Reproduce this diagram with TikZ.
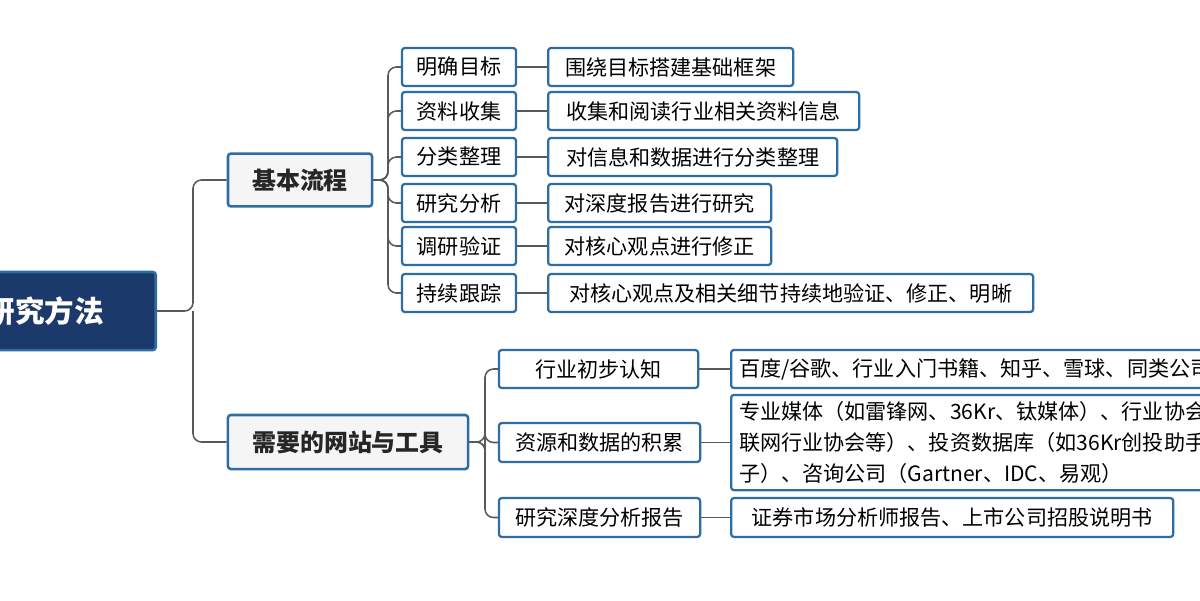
\documentclass[tikz,border=0pt]{standalone}
\usepackage{fontspec}
\setmainfont{Noto Sans CJK SC}
\begin{document}
\begin{tikzpicture}[x=0.025cm,y=-0.025cm,
  bx/.style={draw=bl,line width=1.6pt,rounded corners=2pt,fill=white,font=\fontsize{15}{18}\selectfont,inner sep=0pt},
  l1/.style={draw=bl,line width=1.8pt,rounded corners=2pt,fill=gray!8,font=\fontsize{17}{20}\selectfont\bfseries,inner sep=0pt,text=black!85},
  cn/.style={draw=black!65,line width=1.1pt,rounded corners=6pt}]
\definecolor{bl}{HTML}{2E6DA4}
\definecolor{rt}{HTML}{1B3A6B}
\useasboundingbox (0,0) rectangle (1200,600);
\clip (0,0) rectangle (1200,600);
% root
\node[draw=bl,line width=1.8pt,rounded corners=2pt,fill=rt,minimum width=175\pgflinewidth,inner sep=0pt,
  minimum width=4.3cm,minimum height=1.95cm,anchor=east] (root) at (157,311) {};
\node[anchor=east,text=white,font=\fontsize{21}{24}\selectfont\bfseries] (rt) at (109,311) {研究方法};
% level 1
\node[l1,minimum width=3.6cm,minimum height=1.32cm] (a) at (300,180) {基本流程};
\node[l1,minimum width=6.0cm,minimum height=1.35cm] (b) at (348,442) {需要的网站与工具};
\draw[cn] (root.east) -- (193,311) |- (a.west);
\draw[cn] (193,311) |- (b.west);
% level 2 under a
\foreach \n/\y/\t/\r/\lt in {1/67/明确目标/792/围绕目标搭建基础框架,
  2/111/资料收集/858/收集和阅读行业相关资料信息,
  3/157/分类整理/836/对信息和数据进行分类整理,
  4/203/研究分析/770/对深度报告进行研究,
  5/246/调研验证/770/对核心观点进行修正,
  6/293/持续跟踪/1032/对核心观点及相关细节持续地验证、修正、明晰}{
  \node[bx,minimum width=2.85cm,minimum height=0.95cm] (a\n) at (459,\y) {\t};
  \node[bx,minimum width={(\r-547)*0.025cm},minimum height=0.95cm,anchor=west] (al\n) at (547,\y) {\lt};
  \draw[cn] (a.east) -- (388,180) |- (a\n.west);
  \draw[cn] (a\n.east) -- (al\n.west);
}
% level 2 under b
\node[bx,minimum width=4.98cm,minimum height=0.95cm] (b1) at (598.5,369) {行业初步认知};
\node[bx,minimum width=5.03cm,minimum height=0.97cm] (b2) at (599.5,442.5) {资源和数据的积累};
\node[bx,minimum width=5.03cm,minimum height=0.97cm] (b3) at (599.5,517.5) {研究深度分析报告};
\foreach \n in {1,2,3}{\draw[cn] (b.east) -- (485,442) |- (b\n.west);}
\node[bx,minimum width=12cm,minimum height=0.95cm,anchor=west,text width=11.6cm,align=left] (bl1) at (730,369) {百度/谷歌、行业入门书籍、知乎、雪球、同类公司};
\node[bx,minimum width=12cm,minimum height=2.38cm,anchor=west,text width=11.6cm,align=left,
  font=\fontsize{15}{22}\selectfont] (bl2) at (730,442.5) {专业媒体（如雷锋网、36Kr、钛媒体）、行业协会（如\\联网行业协会等）、投资数据库（如36Kr创投助手\\子）、咨询公司（Gartner、IDC、易观）};
\node[bx,minimum width=11.05cm,minimum height=0.97cm,anchor=west] (bl3) at (730,517.5) {证券市场分析师报告、上市公司招股说明书};
\foreach \n in {1,2,3}{\draw[cn] (b\n.east) -- (bl\n.west);}
\end{tikzpicture}
\end{document}
